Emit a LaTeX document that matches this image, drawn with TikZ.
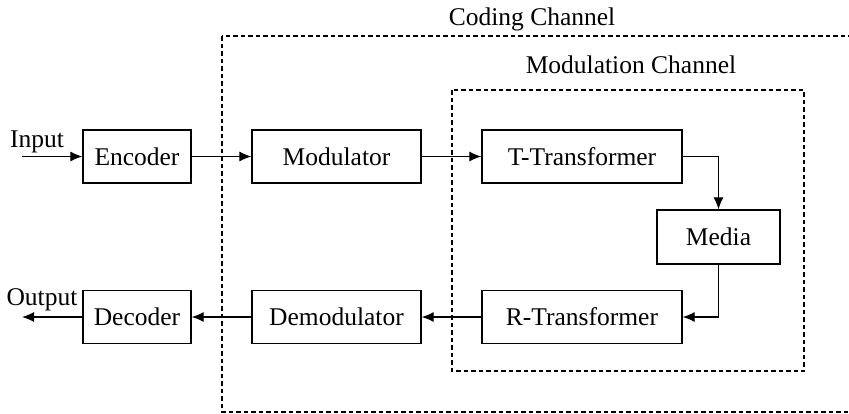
\documentclass[tikz,border=0pt]{standalone}
\usepackage{fontspec}
\setmainfont{Liberation Serif}
\usetikzlibrary{arrows.meta}
\begin{document}
\begin{tikzpicture}[x=1pt,y=-1pt,
  blk/.style={draw, line width=1.3pt, minimum height=53pt, inner sep=0pt, font=\fontsize{25.5}{30}\selectfont},
  lbl/.style={font=\fontsize{25.5}{30}\selectfont, inner sep=0pt},
  conn/.style={line width=1.2pt, -{Latex[length=12pt,width=10pt]}},
  region/.style={line width=1.3pt, dash pattern=on 4.5pt off 3pt}]
\useasboundingbox (0,0) rectangle (849,413);
\clip (0,0) rectangle (849,413);
% regions
\draw[region] (222,36) rectangle (870,412);
\draw[region] (452,90) rectangle (804,371);
\node[lbl, anchor=base] (codlbl) at (532,25) {Coding Channel};
\node[lbl, anchor=base] (modlbl) at (631,73) {Modulation Channel};
% blocks
\node[blk, minimum width=108pt] (enc) at (137,156.5) {Encoder};
\node[blk, minimum width=169pt] (mod) at (336.5,156.5) {Modulator};
\node[blk, minimum width=200pt] (tt) at (582,156.5) {T-Transformer};
\node[blk, minimum width=123pt, minimum height=54pt] (med) at (718.5,237) {Media};
\node[blk, minimum width=200pt] (rt) at (582,317) {R-Transformer};
\node[blk, minimum width=169pt] (dem) at (336.5,317) {Demodulator};
\node[blk, minimum width=108pt] (dec) at (137,317) {Decoder};
% io
\coordinate (in) at (22,156.5);
\coordinate (out) at (22,317);
\node[lbl, anchor=base] (inlbl) at (37,147) {Input};
\node[lbl, anchor=base] (outlbl) at (42,305) {Output};
% connectors
\draw[conn] (in) -- (enc.west);
\draw[conn] (enc.east) -- (mod.west);
\draw[conn] (mod.east) -- (tt.west);
\draw[conn] (tt.east) -| (med.north);
\draw[conn] (med.south) |- (rt.east);
\draw[conn] (rt.west) -- (dem.east);
\draw[conn] (dem.west) -- (dec.east);
\draw[conn] (dec.west) -- (out);
\end{tikzpicture}
\end{document}
